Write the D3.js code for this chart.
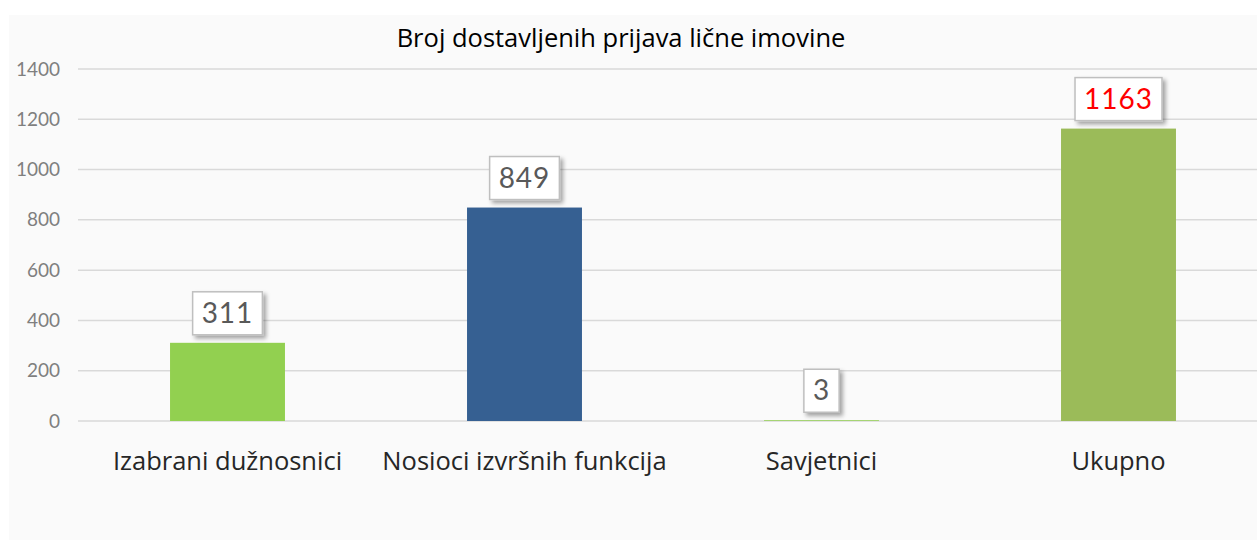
<!DOCTYPE html>
<html>
<head>
<meta charset="utf-8">
<script src="https://cdn.jsdelivr.net/npm/d3@7"></script>
<style>
  html, body { margin: 0; padding: 0; background: white; }
  svg { display: block; }
</style>
</head>
<body>
<svg id="chart"></svg>
<script>
var categories = ["Izabrani dužnosnici", "Nosioci izvršnih funkcija", "Savjetnici", "Ukupno"];
var values = [311, 849, 3, 1163];
var barColors = ["#92d050", "#366092", "#92d050", "#9bbb59"];
var labelColors = ["#595959", "#595959", "#595959", "#ff0000"];
var yTicks = [0, 200, 400, 600, 800, 1000, 1200, 1400];
var title = "Broj dostavljenih prijava lične imovine";

var W = 1257, H = 542;
var svg = d3.select("#chart").attr("width", W).attr("height", H);

// drop shadow for the value boxes
var defs = svg.append("defs");
var f = defs.append("filter").attr("id", "shadow")
  .attr("x", "-30%").attr("y", "-30%").attr("width", "160%").attr("height", "160%");
f.append("feDropShadow").attr("dx", 3).attr("dy", 3).attr("stdDeviation", 2)
  .attr("flood-color", "#000").attr("flood-opacity", 0.35);

// chart area background
svg.append("rect").attr("x", 9).attr("y", 15).attr("width", W - 9).attr("height", 525)
  .attr("fill", "#fafafa");

var x = d3.scaleBand().domain(categories).range([79, 1267])
  .paddingInner(0.613).paddingOuter(0.3065);
var y = d3.scaleLinear().domain([0, 1400]).range([421, 69]);

// gridlines
svg.append("g").selectAll("line").data(yTicks).enter().append("line")
  .attr("x1", 78).attr("x2", W)
  .attr("y1", d => y(d)).attr("y2", d => y(d))
  .attr("stroke", "#d9d9d9").attr("stroke-width", 1.5);

// y axis labels
var yAxis = svg.append("g").attr("transform", "translate(60,0)")
  .call(d3.axisLeft(y).tickValues(yTicks).tickFormat(d3.format("d")).tickSize(0).tickPadding(0));
yAxis.select(".domain").remove();
yAxis.selectAll("text")
  .style("font-family", "Lato, 'DejaVu Sans', sans-serif")
  .style("font-size", "19px")
  .attr("fill", "#7f7f7f");

// bars
svg.append("g").selectAll("rect").data(values).enter().append("rect")
  .attr("x", (d, i) => x(categories[i]))
  .attr("y", d => y(d))
  .attr("width", x.bandwidth())
  .attr("height", d => y(0) - y(d))
  .attr("fill", (d, i) => barColors[i]);

// x axis labels
var xAxis = svg.append("g").attr("transform", "translate(0,421)")
  .call(d3.axisBottom(x).tickSize(0).tickPadding(0));
xAxis.select(".domain").remove();
xAxis.selectAll("text")
  .attr("dy", null).attr("y", 49)
  .style("font-family", "'Open Sans', 'Noto Sans', sans-serif")
  .style("font-size", "25.5px")
  .attr("fill", "#262626");

// value boxes
var lbl = svg.append("g").selectAll("g").data(values).enter().append("g");
lbl.each(function(d, i) {
  var g = d3.select(this);
  var cx = x(categories[i]) + x.bandwidth() / 2;
  var bottom = y(d) - 8;
  var box = g.append("rect");
  var t = g.append("text")
    .attr("x", cx).attr("y", bottom - 12)
    .attr("text-anchor", "middle")
    .style("font-family", "Lato, 'DejaVu Sans', sans-serif")
    .style("font-size", "28px")
    .style("letter-spacing", "1px")
    .attr("fill", labelColors[i])
    .text(d);
  var w = t.node().getComputedTextLength() + 18;
  box.attr("x", cx - w / 2).attr("y", bottom - 43)
    .attr("width", w).attr("height", 43)
    .attr("fill", "white").attr("stroke", "#bfbfbf").attr("stroke-width", 1.5)
    .attr("filter", "url(#shadow)");
});

// title
svg.append("text").attr("x", 621).attr("y", 47)
  .attr("text-anchor", "middle")
  .style("font-family", "'Open Sans', 'Noto Sans', sans-serif")
  .style("font-size", "25.5px")
  .attr("fill", "#000")
  .text(title);
</script>
</body>
</html>
